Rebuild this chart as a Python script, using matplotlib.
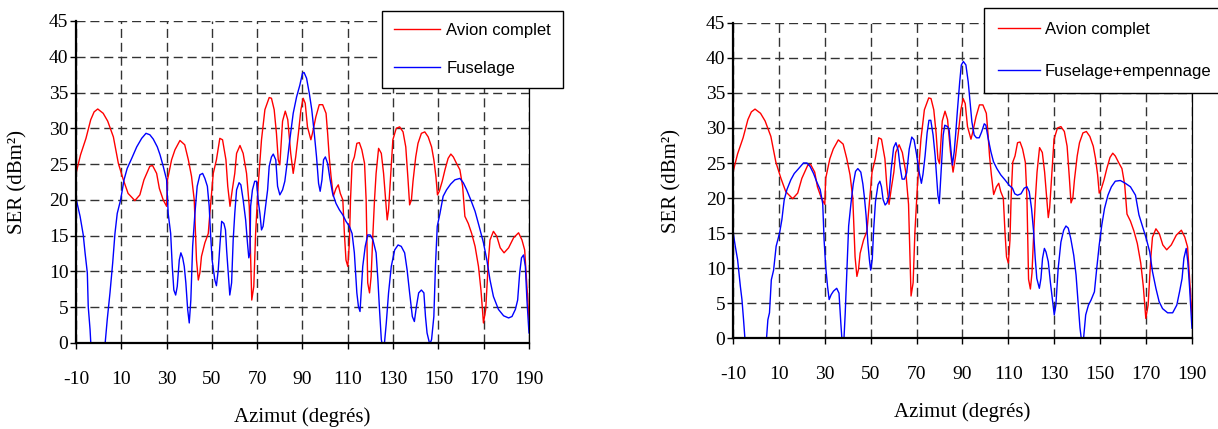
import numpy as np
import matplotlib
matplotlib.use('Agg')
import matplotlib.pyplot as plt

plt.rcParams['axes.unicode_minus'] = False

# Avion complet (same curve on both panels)
avion_az = np.array([-10, -8, -5.6, -3.5, -2, -0.4, 2, 4, 6.5, 8.7, 10.9, 13, 16, 18.2, 20, 22.6, 23.8, 25.6,
                     26.8, 28.5, 30, 30.4, 32.2, 33.7, 35.9, 38, 39.6, 41, 42.2, 43.2, 44, 44.7, 45.4,
                     46.9, 48.4, 49, 50.6, 52, 53.5, 54.7, 56.2, 57, 58, 59, 60.1, 60.9, 62.4, 63.8,
                     65.3, 66.5, 67, 67.6, 68.5, 69.3, 70.4, 71.9, 73.4, 75.3, 76.3, 77.5, 78.5, 79.3,
                     80, 81.2, 82.4, 83.5, 84.8, 85.9, 87, 88.2, 89.3, 90.3, 91.2, 92.2, 93.7, 94.4,
                     95.9, 97.4, 98.9, 100.4, 101.1, 101.8, 102.6, 103.6, 104.8, 105.8, 106.7, 107.8,
                     108.5, 109.2, 110, 110.7, 111.2, 111.9, 112.9, 114, 115.1, 116.2, 117.4, 118.1,
                     118.8, 119.6, 120.3, 121.1, 121.8, 122.5, 123.6, 124.8, 125.8, 126.7, 127.4, 128,
                     128.9, 129.9, 131.4, 132.9, 134.4, 135.6, 136.6, 137.3, 138.1, 138.8, 140, 141,
                     142.5, 144, 145.5, 147, 148, 148.9, 149.6, 150.4, 151.7, 152.9, 154.3, 155.5,
                     156.6, 158, 159.5, 160.7, 161.7, 163.2, 164.7, 166.2, 167.7, 168.8, 169.9, 170.9,
                     172.1, 172.8, 174.3, 175.8, 177.3, 179, 181, 183.2, 185.4, 186.9, 188.1, 189.1, 190])
avion_ser = np.array([23.7, 26.3, 28.6, 31.2, 32.3, 32.7, 32.1, 31, 28.8, 25.1, 22.8, 20.9, 19.9, 20.7, 22.8, 24.7, 24.8, 23.7,
                      21.6, 20, 19.1, 22.8, 25.6, 27, 28.3, 27.7, 25.6, 23.3, 20, 11.6, 8.8, 9.8, 12.1,
                      14, 15.3, 17.7, 23.7, 25.6, 28.6, 28.4, 25.6, 21.9, 19.1, 21.4, 23.7, 26.5, 27.6, 26.5,
                      23.7, 19.1, 13, 6, 7.9, 15.3, 21.9, 28.4, 32.6, 34.3, 34.2, 32.6, 29.3, 25.6,
                      24.9, 31, 32.4, 31.2, 26.5, 23.7, 26, 29.3, 32.6, 34.2, 33.5, 30.2, 28.4, 29.3,
                      31.6, 33.3, 33.3, 32.1, 29.3, 26, 23.3, 20.5, 21.6, 22.1, 20.9, 20,
                      15.3, 11.6, 10.7, 14, 20, 25.1, 26, 27.9, 28, 27, 25.1, 20,
                      8.4, 7, 9.3, 15.3, 20, 23.7, 27.2, 26.5, 23.7, 20, 17.2, 18.6,
                      23.3, 28.4, 30, 30.2, 29.5, 27.4, 22.8, 19.3, 20, 22.6, 26, 27.9,
                      29.3, 29.5, 28.8, 27.4, 25.6, 23.3, 20.7, 21.2, 22.6, 24.2, 25.8, 26.4,
                      26, 25.1, 24.2, 21.9, 17.7, 16.7, 15.3, 13.5, 10.7, 7.4, 2.8, 4.7,
                      11.6, 14.4, 15.6, 14.9, 13.3, 12.6, 13.3, 14.7, 15.4, 14.4, 13, 7.9, 3.3])

# Fuselage (left panel)
fus_az = np.array([-10, -8.2, -6.8, -6, -5, -4.6, -3.8, -3.3, -0.5, 2.6, 3.8, 5, 6.2, 7.2, 8.2, 9.7, 11.2,
                   12.6, 14.6, 16.8, 19, 20.9, 22.6, 24.1, 25.9, 27.1, 28.5, 30, 30.7, 31.8, 32.5, 33.2,
                   34, 34.7, 35.6, 36.3, 37.1, 37.8, 38.5, 39.3, 40, 40.7, 41.5, 42.5, 43.5, 44.7, 45.9,
                   46.9, 48, 48.8, 49.4, 50.1, 51.3, 52, 52.8, 53.5, 54.3, 55.3, 56, 56.5, 57.2, 57.9,
                   58.7, 59.4, 60.1, 60.9, 62, 62.8, 63.8, 64.9, 65.7, 66.3, 66.8, 67.1, 67.9, 68.9,
                   69.7, 70.4, 71.2, 71.9, 72.6, 73.7, 74.6, 75.3, 76.3, 77.1, 78.2, 79, 80, 81.2, 82.2,
                   83.2, 84.4, 85.9, 87.4, 88.8, 90, 90.7, 91.8, 93, 94.1, 95.2, 96.2, 97.1, 97.8, 98.6,
                   99.3, 100.1, 101.1, 102.1, 103.3, 104.8, 106.3, 107.8, 109.2, 110.7, 111.9, 112.9,
                   114, 114.7, 115.4, 115.9, 116.6, 117.7, 118.8, 119.9, 121.1, 122.5, 123.3, 124,
                   124.8, 125.5, 126.2, 127, 128, 129.2, 130.7, 132.2, 133.6, 135.1, 136.2, 137.3,
                   138.5, 139.4, 140.3, 141.3, 142.5, 143.6, 144.3, 145, 146.2, 147, 148, 148.7, 149.5,
                   150.7, 152.1, 153.6, 155.4, 157.3, 159.5, 161, 162.5, 164.3, 166.2, 168, 169.9,
                   171.4, 172.8, 174.3, 176.5, 178.8, 181, 182.5, 184, 185, 185.9, 186.7, 187.6,
                   188.4, 189.1, 190])
fus_ser = np.array([20.2, 17.7, 15.1, 12.6, 9.8, 5.1, 1.9, -1, -8, -1, 3.3, 7, 11.2, 15.3, 18.1, 20, 22.8,
                    24.4, 25.8, 27.4, 28.6, 29.3, 29.1, 28.5, 27.4, 26.3, 24.7, 22.8, 18.1, 15.3, 10.7, 7.4,
                    6.7, 7.9, 11.6, 12.6, 11.9, 10.7, 8.4, 4.7, 2.8, 6, 13.5, 18.1, 21.9, 23.5, 23.7,
                    23, 21.9, 19.1, 15.3, 11.6, 8.8, 8, 10.2, 13.5, 17, 16.7, 15.8, 13, 9.8, 6.7,
                    8.4, 14.4, 18.1, 21.4, 22.4, 22.1, 20, 17.2, 14, 11.9, 12.6, 19.1, 21.4, 22.6,
                    22.6, 20, 18.1, 15.8, 16.3, 19.1, 21.4, 24.7, 26, 26.4, 25.6, 21.9, 20.7, 21.4, 22.6,
                    25.1, 28.4, 32.1, 34.4, 36, 37.7, 37.8, 37, 34.9, 32.6, 29.3, 26, 22.3, 21.2, 22.8,
                    25.6, 26, 25.1, 23, 20.9, 19.5, 18.6, 17.9, 17, 16.3, 15.3, 12.6,
                    7, 5.1, 4.4, 7, 10.7, 13.5, 15.1, 15.1, 14.4, 12.6, 8.8, 4.7,
                    0.5, -0.8, 0, 2.8, 7, 10.7, 13, 13.7, 13.5, 12.6, 10.2, 7,
                    3.7, 3, 5.1, 7, 7.4, 7, 3.7, 1.4, -0.2, 0.5, 3.7, 10.7, 16.3,
                    18.1, 20.5, 21.4, 22.2, 22.8, 23, 22.4, 21.4, 20, 18.4, 16.3, 14,
                    11.6, 8.8, 6.5, 4.7, 3.8, 3.5, 3.7, 4.7, 6, 9.8, 11.9, 12.3,
                    10.7, 6, 1.4])

# Fuselage+empennage (right panel)
emp_az = np.array([-10, -9, -8, -6.8, -6.1, -5.4, -4.6, 0, 4.4, 5.2, 5.9, 6.7, 7.7, 8.8, 10.3, 11.3, 12.3,
                   13.5, 15.2, 16.7, 18.6, 20.7, 22.2, 23.6, 25.1, 26.5, 28, 29.1, 29.7, 30.4, 31.2,
                   31.9, 32.8, 33.8, 35.2, 36.2, 37, 37.6, 38.3, 38.9, 39.7, 40.4, 41.4, 42.4, 43.4,
                   44.4, 45.7, 46.6, 47.3, 48, 48.8, 49.5, 50, 50.7, 51.3, 52.1, 53.2, 54, 54.7, 55.4,
                   56.3, 57.1, 58, 58.9, 60, 61, 62, 62.8, 63.7, 64.7, 65.7, 66.8, 67.9, 68.9, 70,
                   71.2, 72.1, 72.8, 73.7, 74.6, 75.4, 76.2, 77.2, 78.1, 78.7, 79.3, 79.9, 80.6, 81.6,
                   82.3, 83.5, 84.2, 84.9, 85.6, 86.4, 87.1, 87.8, 88.8, 89.5, 90.4, 91.5, 92.5, 93.3,
                   94.1, 95.1, 96.1, 97.3, 98.3, 99.5, 100.2, 101.2, 102.4, 103.5, 105, 106.7, 108.5,
                   110.4, 111.8, 112.8, 114, 115.5, 116.9, 118.1, 119.1, 120.1, 121, 121.7, 122.4,
                   123.5, 124.2, 124.9, 125.7, 126.4, 127.4, 128.3, 129.3, 130, 130.7, 131.7, 132.9,
                   134.1, 135.1, 136.1, 137.2, 138.5, 139.5, 140.3, 141.2, 142, 142.7, 143.7, 144.9,
                   146, 147.5, 148.5, 149.6, 150.7, 151.9, 153.4, 154.9, 156.6, 158.8, 161, 163.2,
                   165.4, 166.9, 168.7, 170.1, 171.6, 172.8, 174.3, 175.7, 177.2, 179.4, 181.6, 183.4,
                   184.6, 185.7, 186.5, 187.5, 188.2, 189, 190])
emp_ser = np.array([15.2, 13.1, 11.2, 7.4, 5.5, 2.6, -1, -8, -1, 2.6, 3.6, 8.3, 9.7, 13.1, 15, 16.9, 19.7,
                    21.2, 22.6, 23.5, 24.2, 25, 25, 24.5, 23.5, 22.3, 21.2, 19.2, 14, 10.2, 7.4,
                    5.5, 6.2, 6.7, 7.1, 6.4, 2.1, -0.8, -0.5, 3.5, 10, 16, 19.2, 22, 23.8,
                    24.2, 23.7, 22, 20, 17.5, 13.5, 11, 9.7, 11.3, 15.5, 19.5, 21.9, 22.4, 21.6, 19.8,
                    19, 19.3, 20.3, 24, 27.2, 27.9, 26.8, 24.5, 22.7, 22.7, 23.6, 27, 28.7, 28.3, 26.2,
                    23.6, 22.1, 23.4, 26, 29.3, 31.1, 31.1, 29, 26, 23.3, 20.4, 19.2, 23.3, 29,
                    30.4, 30.2, 29.7, 27.1, 24.7, 26.6, 29.4, 32.5, 36.6, 39, 39.5, 39, 36.6, 33.7,
                    30.9, 29, 28.6, 28.6, 29.4, 30.6, 30.4, 28.5, 26.6, 25.2, 24.2, 23.3, 22.6,
                    21.8, 21.4, 20.6, 20.4, 20.6, 21.4, 21.6, 20.9, 18.5, 15.2, 11.4, 8.5,
                    7.1, 8.5, 11.4, 12.8, 12.3, 10.9, 8, 5.2, 3.3, 4.7, 9.9, 13.7,
                    15.4, 16, 15.7, 14.2, 11.8, 9, 5.5, 1.5, -0.7, -0.3, 3.3, 4.7,
                    5.4, 6.6, 9.9, 13.3, 16.1, 18.5, 20.4, 21.6, 22.4, 22.5, 22.1, 21.6,
                    20.4, 17.6, 15.7, 14.2, 12.3, 9.5, 7.1, 5.2, 4.2, 3.6, 3.6, 4.7,
                    6.6, 8.5, 11.4, 12.8, 10.9, 7.1, 1.4])

x_ticks = np.arange(-10, 191, 20)
y_ticks = np.arange(0, 46, 5)

serif = 'Liberation Serif'
sans = 'Liberation Sans'

fig = plt.figure(figsize=(12.18, 4.29), dpi=100)
ax1 = fig.add_axes([0.0624, 0.2005, 0.3719, 0.7506])
ax2 = fig.add_axes([0.6018, 0.2121, 0.3768, 0.7343])


def style_axes(ax, label_x, label_y):
    ax.set_xlim(-10, 190)
    ax.set_ylim(0, 45)
    ax.set_xticks(x_ticks)
    ax.set_yticks(y_ticks)
    ax.grid(True, color='#333333', linewidth=1.0, linestyle=(0, (6.5, 3.5)))
    ax.set_axisbelow(True)
    ax.spines['top'].set_visible(False)
    ax.spines['left'].set_linewidth(1.6)
    ax.spines['bottom'].set_linewidth(1.6)
    ax.spines['right'].set_linewidth(0.9)
    ax.tick_params(axis='x', direction='out', length=4.5, width=1, pad=16)
    ax.tick_params(axis='y', direction='out', length=4.5, width=1, pad=1)
    for lab in ax.get_xticklabels() + ax.get_yticklabels():
        lab.set_fontfamily(serif)
        lab.set_fontsize(14)
    ax.set_xlabel('Azimut (degrés)', fontfamily=serif, fontsize=15)
    ax.set_ylabel('SER (dBm²)', fontfamily=serif, fontsize=15)
    ax.xaxis.set_label_coords(0.5, label_x)
    ax.yaxis.set_label_coords(label_y, 0.5)


ax1.plot(avion_az, avion_ser, color='#ff0000', lw=1.0, label='Avion complet')
ax1.plot(fus_az, fus_ser, color='#0000ff', lw=1.0, label='Fuselage')
style_axes(ax1, -0.20, -0.108)
leg1 = ax1.legend(loc='upper left', bbox_to_anchor=(382 / 1218, 1 - 11 / 429),
                  bbox_transform=fig.transFigure, prop={'family': sans, 'size': 12},
                  handlelength=2.8, handletextpad=0.35, borderpad=0.7, labelspacing=1.4,
                  borderaxespad=0, fancybox=False, edgecolor='black', framealpha=1)
leg1.get_frame().set_linewidth(1.0)

ax2.plot(avion_az, avion_ser, color='#ff0000', lw=1.0, label='Avion complet')
ax2.plot(emp_az, emp_ser, color='#0000ff', lw=1.0, label='Fuselage+empennage')
style_axes(ax2, -0.205, -0.112)
leg2 = ax2.legend(loc='upper left', bbox_to_anchor=(984 / 1218, 1 - 8 / 429),
                  bbox_transform=fig.transFigure, prop={'family': sans, 'size': 12},
                  handlelength=2.5, handletextpad=0.3, borderpad=0.85, labelspacing=1.6,
                  borderaxespad=0, fancybox=False, edgecolor='black', framealpha=1)
leg2.get_frame().set_linewidth(1.0)

fig.savefig('out.png', dpi=100)
